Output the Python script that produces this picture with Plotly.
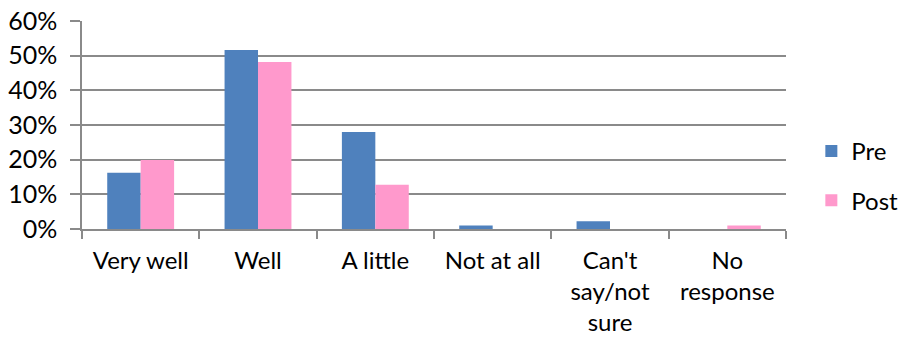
import plotly.graph_objects as go

categories = ["Very well", "Well", "A little", "Not at all", "Can't<br>say/not<br>sure", "No<br>response"]
pre = [0.162, 0.516, 0.280, 0.010, 0.022, 0.0]
post = [0.199, 0.482, 0.128, 0.0, 0.0, 0.010]

FONT = "Lato"
FS = 25
GRID = "#8a8a8a"

fig = go.Figure()
fig.add_trace(go.Bar(x=categories, y=pre, name="Pre", legendgroup="pre",
                     marker=dict(color="#4F81BD", line=dict(width=0))))
fig.add_trace(go.Bar(x=categories, y=post, name="Post", legendgroup="post",
                     marker=dict(color="#FF99CC", line=dict(width=0))))

fig.update_layout(
    width=898, height=340,
    margin=dict(l=82, r=112, t=21, b=111, autoexpand=False),
    paper_bgcolor="white", plot_bgcolor="white",
    barmode="group", bargap=0.43, bargroupgap=0,
    font=dict(family=FONT, size=FS, color="#000000"),
    legend=dict(x=1.036, y=0.255, xanchor="left", yanchor="middle",
                font=dict(family=FONT, size=24), tracegroupgap=15,
                itemwidth=30, bgcolor="rgba(0,0,0,0)"),
    showlegend=True,
)
fig.update_xaxes(
    type="category", range=[-0.5, 5.5], automargin=False,
    showline=True, linecolor=GRID, linewidth=1.5,
    ticks="outside", tickson="boundaries", ticklen=8, tickcolor=GRID, tickwidth=1.5,
    showgrid=False, tickfont=dict(family=FONT, size=24),
    ticklabelstandoff=9,
)
fig.update_yaxes(
    range=[0, 0.6], dtick=0.1, tickformat=".0%", automargin=False,
    showline=True, linecolor=GRID, linewidth=1.5,
    ticks="outside", ticklen=10, tickcolor=GRID, tickwidth=1.5,
    showgrid=True, gridcolor=GRID, gridwidth=1.5,
    zeroline=False, tickfont=dict(family=FONT, size=FS),
    ticklabelstandoff=8,
)

fig.write_html("out.html")
